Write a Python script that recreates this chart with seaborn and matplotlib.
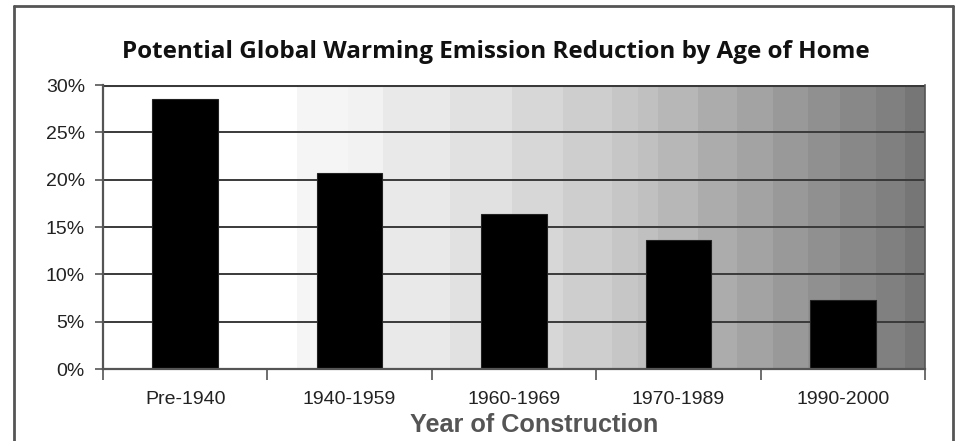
import numpy as np
import matplotlib
matplotlib.use("Agg")
import matplotlib.pyplot as plt
from matplotlib.lines import Line2D
from matplotlib.ticker import FuncFormatter, FixedLocator
import pandas as pd
import seaborn as sns

# Emission reduction potential by construction period
periods = ["Pre-1940", "1940-1959", "1960-1969", "1970-1989", "1990-2000"]
reduction_pct = [28.5, 20.7, 16.4, 13.6, 7.3]
y_ticks = [0, 5, 10, 15, 20, 25, 30]

df = pd.DataFrame({"period": periods, "reduction": reduction_pct})

sns.set_theme(style="white")
plt.rcParams["font.family"] = ["Liberation Sans", "DejaVu Sans"]

W, H = 964, 441
fig = plt.figure(figsize=(W / 100, H / 100), dpi=100)
fig.patch.set_facecolor("white")

px_l, px_r, px_t, px_b = 103, 925, 85, 369
ax = fig.add_axes([px_l / W, 1 - px_b / H, (px_r - px_l) / W, (px_b - px_t) / H])

# Banded grey backdrop, light on the left and darkening to the right
band_edges_px = [103, 297, 348, 383, 450, 512, 563, 612, 638, 658, 698,
                 737, 773, 808, 840, 876, 905, 925]
band_grey = [255, 245, 242, 233, 225, 215, 206, 198, 192, 183, 172,
             163, 153, 144, 136, 128, 118]
cols = np.arange(px_l, px_r)
strip = np.zeros(len(cols))
for i in range(len(band_grey)):
    m = (cols >= band_edges_px[i]) & (cols < band_edges_px[i + 1])
    strip[m] = band_grey[i] / 255.0
img = np.tile(strip, (2, 1))
ax.imshow(img, cmap="gray", vmin=0, vmax=1, aspect="auto",
          extent=[0, 1, 0, 1], transform=ax.transAxes, zorder=0,
          interpolation="nearest")

sns.barplot(data=df, x="period", y="reduction", order=periods,
            color="black", width=0.4, saturation=1, ax=ax, zorder=3,
            edgecolor="#222222", linewidth=0.8)

ax.set_xlim(-0.5, len(periods) - 0.5)
ax.set_ylim(0, 30)
ax.set_yticks(y_ticks)
ax.yaxis.set_major_formatter(FuncFormatter(lambda v, p: f"{v:.0f}%"))

for v in y_ticks[1:]:
    ax.axhline(v, color="#3a3a3a", lw=1.4 if v < 30 else 2.2, zorder=2)

# Category boundaries carry the tick marks; labels sit under the bar centres
ax.xaxis.set_minor_locator(FixedLocator(np.arange(-0.5, len(periods), 1.0)))
ax.tick_params(axis="x", which="major", length=0, pad=16, labelsize=14,
               labelcolor="#222222")
ax.tick_params(axis="x", which="minor", length=8, width=1.2, color="#555555",
               direction="out", bottom=True)
ax.tick_params(axis="y", which="major", length=6, width=1.2, color="#555555",
               direction="out", left=True, pad=7, labelsize=14,
               labelcolor="#222222")

for side in ["left", "bottom"]:
    ax.spines[side].set_color("#555555")
    ax.spines[side].set_linewidth(1.6)
    ax.spines[side].set_zorder(4)
ax.spines["right"].set_color("#555555")
ax.spines["right"].set_linewidth(1.2)
ax.spines["top"].set_visible(False)

ax.set_ylabel("")
ax.set_xlabel("Year of Construction", fontsize=18.2, fontweight="bold",
              color="#555555", va="center")
ax.xaxis.set_label_coords((534 - px_l) / (px_r - px_l),
                          (px_b - 425) / (px_b - px_t))

title = fig.text(496 / W, 1 - 58 / H,
                 "Potential Global Warming Emission Reduction by Age of Home",
                 ha="center", va="baseline", fontsize=17, fontweight="bold",
                 family=["Open Sans", "DejaVu Sans"], color="#111111")
# Size the title so it spans the intended width
renderer = fig.canvas.get_renderer()
tw = title.get_window_extent(renderer).width
title.set_fontsize(17 * 747 / tw)

# Outer frame around the graphic
frame_kw = dict(color="#555555", lw=2, transform=fig.transFigure)
fig.add_artist(Line2D([14 / W, 14 / W], [0, 1 - 6 / H], **frame_kw))
fig.add_artist(Line2D([14 / W, 953 / W], [1 - 6 / H, 1 - 6 / H], **frame_kw))
fig.add_artist(Line2D([953 / W, 953 / W], [0, 1 - 6 / H], **frame_kw))

fig.savefig("out.png", dpi=100, facecolor="white")
